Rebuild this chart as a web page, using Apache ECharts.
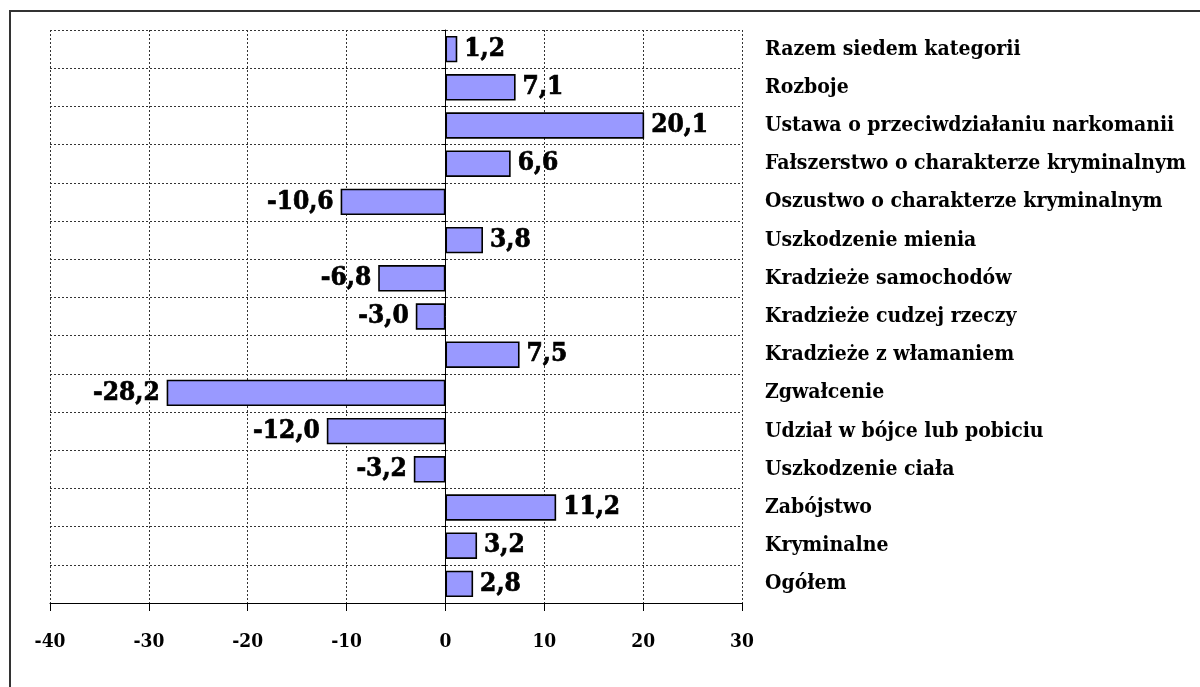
<!DOCTYPE html>
<html>
<head>
<meta charset="utf-8">
<script src="https://cdn.jsdelivr.net/npm/echarts@6/dist/echarts.min.js"></script>
<style>
html,body{margin:0;padding:0;background:#fff;}
#chart{width:1200px;height:687px;}
</style>
</head>
<body>
<div id="chart"></div>
<script>
const categories = [
  'Ogółem',
  'Kryminalne',
  'Zabójstwo',
  'Uszkodzenie ciała',
  'Udział w bójce lub pobiciu',
  'Zgwałcenie',
  'Kradzieże z włamaniem',
  'Kradzieże cudzej rzeczy',
  'Kradzieże samochodów',
  'Uszkodzenie mienia',
  'Oszustwo o charakterze kryminalnym',
  'Fałszerstwo o charakterze kryminalnym',
  'Ustawa o przeciwdziałaniu narkomanii',
  'Rozboje',
  'Razem siedem kategorii'
];
const values = [2.8, 3.2, 11.2, -3.2, -12.0, -28.2, 7.5, -3.0, -6.8, 3.8, -10.6, 6.6, 20.1, 7.1, 1.2];
const xMin = -40, xMax = 30, xStep = 10;

const FONT = '"DejaVu Serif Condensed", "DejaVu Serif", serif';

const chart = echarts.init(document.getElementById('chart'), null, {renderer: 'canvas'});

const barData = values.map(v => ({
  value: v,
  label: {position: v >= 0 ? 'right' : 'left'}
}));

const gridLine = {color: '#333', type: [2, 2], width: 1};

chart.setOption({
  animation: false,
  backgroundColor: '#fff',
  graphic: [{
    type: 'rect',
    shape: {x: 10, y: 11, width: 1250, height: 760},
    style: {fill: null, stroke: '#333', lineWidth: 2},
    silent: true, z: 100
  }],
  grid: {left: 50, right: 458, top: 30, bottom: 84, containLabel: false},
  xAxis: {
    type: 'value',
    min: xMin, max: xMax, interval: xStep,
    axisLine: {show: true, onZero: false, lineStyle: {color: '#000', width: 1}},
    axisTick: {show: true, length: 8, lineStyle: {color: '#000'}},
    axisLabel: {
      margin: 30, color: '#000', fontFamily: FONT, fontWeight: 'bold', fontSize: 19
    },
    splitLine: {show: true, lineStyle: gridLine}
  },
  yAxis: [{
    type: 'category',
    data: categories,
    axisLine: {show: true, onZero: true, lineStyle: {color: '#000', width: 1}},
    axisTick: {show: true, length: 4, lineStyle: {color: '#000'}},
    axisLabel: {show: false},
    splitLine: {show: true, lineStyle: gridLine}
  }, {
    type: 'category',
    data: categories,
    position: 'right',
    axisLine: {show: false, onZero: false},
    axisTick: {show: false},
    splitLine: {show: false},
    axisLabel: {
      show: true, align: 'left', margin: 23, color: '#000',
      fontFamily: FONT, fontWeight: 'bold', fontSize: 21
    }
  }],
  series: [{
    type: 'bar',
    yAxisIndex: 0,
    data: barData,
    barWidth: '69%',
    itemStyle: {color: '#9999FF', borderColor: '#000', borderWidth: 1.6},
    label: {
      show: true,
      distance: 7,
      color: '#000',
      fontFamily: FONT,
      fontWeight: 'bold',
      fontSize: 26,
      textBorderColor: '#000',
      textBorderWidth: 0.7,
      formatter: p => p.value.toFixed(1).replace('.', ',')
    }
  }]
});
</script>
</body>
</html>
